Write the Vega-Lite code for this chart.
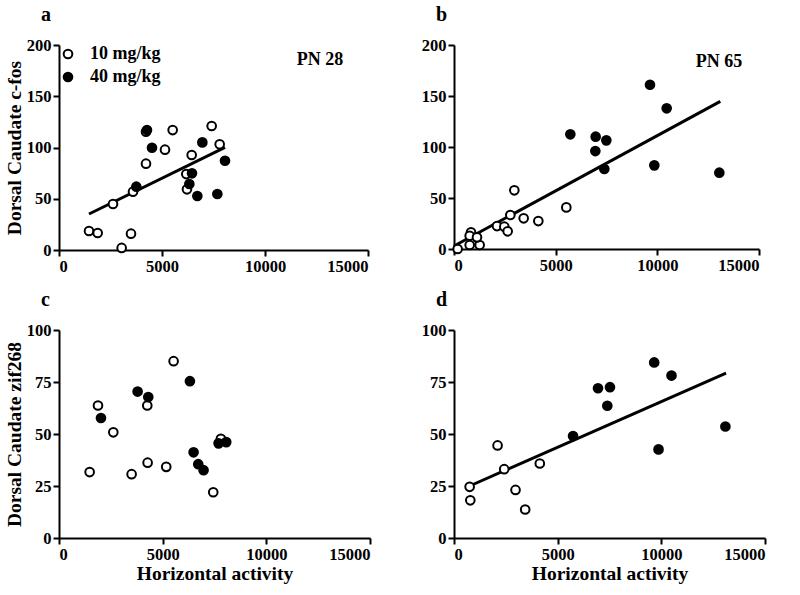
{
  "$schema": "https://vega.github.io/schema/vega-lite/v6.json",
  "background": "white",
  "padding": {"left": 4, "top": 5, "right": 5, "bottom": 5},
  "datasets": {
    "pts": [
      {"panel": "a", "dose": "10 mg/kg", "activity": 1456, "expr": 18.5},
      {"panel": "a", "dose": "10 mg/kg", "activity": 1877, "expr": 16.6},
      {"panel": "a", "dose": "10 mg/kg", "activity": 2621, "expr": 44.9},
      {"panel": "a", "dose": "10 mg/kg", "activity": 3042, "expr": 2},
      {"panel": "a", "dose": "10 mg/kg", "activity": 3495, "expr": 15.9},
      {"panel": "a", "dose": "10 mg/kg", "activity": 3592, "expr": 56.9},
      {"panel": "a", "dose": "10 mg/kg", "activity": 4223, "expr": 84.2},
      {"panel": "a", "dose": "10 mg/kg", "activity": 4223, "expr": 115.4},
      {"panel": "a", "dose": "10 mg/kg", "activity": 5145, "expr": 97.9},
      {"panel": "a", "dose": "10 mg/kg", "activity": 5518, "expr": 117},
      {"panel": "a", "dose": "10 mg/kg", "activity": 6180, "expr": 74.1},
      {"panel": "a", "dose": "10 mg/kg", "activity": 6212, "expr": 59.2},
      {"panel": "a", "dose": "10 mg/kg", "activity": 6441, "expr": 92.7},
      {"panel": "a", "dose": "10 mg/kg", "activity": 7411, "expr": 121},
      {"panel": "a", "dose": "10 mg/kg", "activity": 7799, "expr": 103.1},
      {"panel": "a", "dose": "40 mg/kg", "activity": 3753, "expr": 61.8},
      {"panel": "a", "dose": "40 mg/kg", "activity": 4271, "expr": 117},
      {"panel": "a", "dose": "40 mg/kg", "activity": 4514, "expr": 99.8},
      {"panel": "a", "dose": "40 mg/kg", "activity": 6456, "expr": 74.8},
      {"panel": "a", "dose": "40 mg/kg", "activity": 6327, "expr": 64.4},
      {"panel": "a", "dose": "40 mg/kg", "activity": 6715, "expr": 52.7},
      {"panel": "a", "dose": "40 mg/kg", "activity": 6958, "expr": 105},
      {"panel": "a", "dose": "40 mg/kg", "activity": 7686, "expr": 54.6},
      {"panel": "a", "dose": "40 mg/kg", "activity": 8058, "expr": 87.1},
      {"panel": "b", "dose": "10 mg/kg", "activity": 180, "expr": 0},
      {"panel": "b", "dose": "10 mg/kg", "activity": 771, "expr": 3.9},
      {"panel": "b", "dose": "10 mg/kg", "activity": 1262, "expr": 3.9},
      {"panel": "b", "dose": "10 mg/kg", "activity": 836, "expr": 16.3},
      {"panel": "b", "dose": "10 mg/kg", "activity": 771, "expr": 13},
      {"panel": "b", "dose": "10 mg/kg", "activity": 1131, "expr": 11.4},
      {"panel": "b", "dose": "10 mg/kg", "activity": 2115, "expr": 22.5},
      {"panel": "b", "dose": "10 mg/kg", "activity": 2475, "expr": 21.9},
      {"panel": "b", "dose": "10 mg/kg", "activity": 2639, "expr": 17.3},
      {"panel": "b", "dose": "10 mg/kg", "activity": 2770, "expr": 33.3},
      {"panel": "b", "dose": "10 mg/kg", "activity": 2967, "expr": 57.5},
      {"panel": "b", "dose": "10 mg/kg", "activity": 3426, "expr": 30.1},
      {"panel": "b", "dose": "10 mg/kg", "activity": 4147, "expr": 27.4},
      {"panel": "b", "dose": "10 mg/kg", "activity": 5524, "expr": 40.8},
      {"panel": "b", "dose": "40 mg/kg", "activity": 5721, "expr": 112.4},
      {"panel": "b", "dose": "40 mg/kg", "activity": 6967, "expr": 110.1},
      {"panel": "b", "dose": "40 mg/kg", "activity": 7492, "expr": 106.5},
      {"panel": "b", "dose": "40 mg/kg", "activity": 6951, "expr": 96},
      {"panel": "b", "dose": "40 mg/kg", "activity": 7393, "expr": 78.4},
      {"panel": "b", "dose": "40 mg/kg", "activity": 9639, "expr": 161},
      {"panel": "b", "dose": "40 mg/kg", "activity": 10459, "expr": 137.9},
      {"panel": "b", "dose": "40 mg/kg", "activity": 9852, "expr": 82},
      {"panel": "b", "dose": "40 mg/kg", "activity": 13049, "expr": 74.8},
      {"panel": "c", "dose": "10 mg/kg", "activity": 1478, "expr": 31.7},
      {"panel": "c", "dose": "10 mg/kg", "activity": 1880, "expr": 63.7},
      {"panel": "c", "dose": "10 mg/kg", "activity": 2619, "expr": 50.8},
      {"panel": "c", "dose": "10 mg/kg", "activity": 3502, "expr": 30.7},
      {"panel": "c", "dose": "10 mg/kg", "activity": 4258, "expr": 63.7},
      {"panel": "c", "dose": "10 mg/kg", "activity": 4274, "expr": 36.2},
      {"panel": "c", "dose": "10 mg/kg", "activity": 5172, "expr": 34.2},
      {"panel": "c", "dose": "10 mg/kg", "activity": 5527, "expr": 85},
      {"panel": "c", "dose": "10 mg/kg", "activity": 7439, "expr": 22},
      {"panel": "c", "dose": "10 mg/kg", "activity": 7808, "expr": 47.7},
      {"panel": "c", "dose": "40 mg/kg", "activity": 2024, "expr": 57.7},
      {"panel": "c", "dose": "40 mg/kg", "activity": 3792, "expr": 70.4},
      {"panel": "c", "dose": "40 mg/kg", "activity": 4306, "expr": 67.8},
      {"panel": "c", "dose": "40 mg/kg", "activity": 6314, "expr": 75.4},
      {"panel": "c", "dose": "40 mg/kg", "activity": 6491, "expr": 41.2},
      {"panel": "c", "dose": "40 mg/kg", "activity": 6716, "expr": 35.5},
      {"panel": "c", "dose": "40 mg/kg", "activity": 6973, "expr": 32.6},
      {"panel": "c", "dose": "40 mg/kg", "activity": 7696, "expr": 45.5},
      {"panel": "c", "dose": "40 mg/kg", "activity": 8066, "expr": 46.1},
      {"panel": "d", "dose": "10 mg/kg", "activity": 754, "expr": 24.6},
      {"panel": "d", "dose": "10 mg/kg", "activity": 786, "expr": 18.1},
      {"panel": "d", "dose": "10 mg/kg", "activity": 2101, "expr": 44.5},
      {"panel": "d", "dose": "10 mg/kg", "activity": 2422, "expr": 33.1},
      {"panel": "d", "dose": "10 mg/kg", "activity": 2967, "expr": 23.1},
      {"panel": "d", "dose": "10 mg/kg", "activity": 3433, "expr": 13.7},
      {"panel": "d", "dose": "10 mg/kg", "activity": 4138, "expr": 35.8},
      {"panel": "d", "dose": "40 mg/kg", "activity": 5742, "expr": 49},
      {"panel": "d", "dose": "40 mg/kg", "activity": 6945, "expr": 72},
      {"panel": "d", "dose": "40 mg/kg", "activity": 7523, "expr": 72.5},
      {"panel": "d", "dose": "40 mg/kg", "activity": 7394, "expr": 63.6},
      {"panel": "d", "dose": "40 mg/kg", "activity": 9656, "expr": 84.4},
      {"panel": "d", "dose": "40 mg/kg", "activity": 10490, "expr": 78.1},
      {"panel": "d", "dose": "40 mg/kg", "activity": 9865, "expr": 42.6},
      {"panel": "d", "dose": "40 mg/kg", "activity": 13089, "expr": 53.6}
    ],
    "lines": [
      {"panel": "a", "activity": 1456, "expr": 35.1},
      {"panel": "a", "activity": 8058, "expr": 100.2},
      {"panel": "b", "activity": 0, "expr": 2.9},
      {"panel": "b", "activity": 13098, "expr": 144.7},
      {"panel": "d", "activity": 754, "expr": 25},
      {"panel": "d", "activity": 13121, "expr": 79.3}
    ],
    "labels": [
      {"panel": "a", "activity": 12670, "expr": 185, "text": "PN 28"},
      {"panel": "b", "activity": 13030, "expr": 183, "text": "PN 65"}
    ]
  },
  "config": {
    "font": "Liberation Serif",
    "view": {"stroke": null},
    "axis": {
      "grid": false,
      "domainColor": "black",
      "domainWidth": 2,
      "tickColor": "black",
      "tickWidth": 2,
      "tickSize": 6,
      "labelColor": "black",
      "labelFont": "Liberation Serif",
      "labelFontWeight": "bold",
      "labelFontSize": 16.5,
      "labelPadding": 2,
      "titleColor": "black",
      "titleFont": "Liberation Serif",
      "titleFontWeight": "bold",
      "titleFontSize": 19.5,
      "titlePadding": 2
    },
    "title": {
      "font": "Liberation Serif",
      "fontSize": 20,
      "fontWeight": "bold",
      "color": "black",
      "anchor": "start",
      "frame": "group",
      "dx": -18,
      "offset": 12
    }
  },
  "columns": 2,
  "bounds": "flush",
  "spacing": {"row": 80, "column": 84},
  "resolve": {"scale": {"fill": "independent"}, "legend": {"fill": "independent"}},
  "concat": [
    {
      "title": "a",
      "width": 309,
      "height": 205,
      "layer": [
        {
          "data": {"name": "lines"},
          "transform": [{"filter": "datum.panel === 'a'"}],
          "mark": {"type": "line", "color": "black", "strokeWidth": 3},
          "encoding": {
            "x": {"field": "activity", "type": "quantitative"},
            "y": {"field": "expr", "type": "quantitative"}
          }
        },
        {
          "data": {"name": "pts"},
          "transform": [{"filter": "datum.panel === 'a'"}],
          "mark": {"type": "point", "shape": "circle", "filled": true, "stroke": "black", "strokeWidth": 2, "size": 75, "opacity": 1},
          "encoding": {
            "x": {"field": "activity", "type": "quantitative", "scale": {"domain": [0, 15000], "nice": false}, "axis": {"values": [0, 5000, 10000, 15000], "format": "d", "title": null}},
            "y": {"field": "expr", "type": "quantitative", "scale": {"domain": [0, 200], "nice": false}, "axis": {"values": [0, 50, 100, 150, 200], "title": "Dorsal Caudate c-fos"}},
            "fill": {"field": "dose", "type": "nominal", "scale": {"domain": ["10 mg/kg", "40 mg/kg"], "range": ["white", "black"]}, "legend": {"title": null, "orient": "top-left", "offset": 0, "padding": 0, "labelFont": "Liberation Serif", "labelFontWeight": "bold", "labelFontSize": 18, "labelColor": "black", "symbolStrokeColor": "black", "symbolStrokeWidth": 2, "symbolSize": 75, "rowPadding": 5, "labelOffset": 13}}
          }
        },
        {
          "data": {"name": "labels"},
          "transform": [{"filter": "datum.panel === 'a'"}],
          "mark": {"type": "text", "font": "Liberation Serif", "fontWeight": "bold", "fontSize": 18, "color": "black"},
          "encoding": {
            "x": {"field": "activity", "type": "quantitative"},
            "y": {"field": "expr", "type": "quantitative"},
            "text": {"field": "text"}
          }
        }
      ]
    },
    {
      "title": "b",
      "width": 305,
      "height": 204,
      "layer": [
        {
          "data": {"name": "lines"},
          "transform": [{"filter": "datum.panel === 'b'"}],
          "mark": {"type": "line", "color": "black", "strokeWidth": 3},
          "encoding": {
            "x": {"field": "activity", "type": "quantitative"},
            "y": {"field": "expr", "type": "quantitative"}
          }
        },
        {
          "data": {"name": "pts"},
          "transform": [{"filter": "datum.panel === 'b'"}],
          "mark": {"type": "point", "shape": "circle", "filled": true, "stroke": "black", "strokeWidth": 2, "size": 75, "opacity": 1},
          "encoding": {
            "x": {"field": "activity", "type": "quantitative", "scale": {"domain": [0, 15000], "nice": false}, "axis": {"values": [0, 5000, 10000, 15000], "format": "d", "title": null}},
            "y": {"field": "expr", "type": "quantitative", "scale": {"domain": [0, 200], "nice": false}, "axis": {"values": [0, 50, 100, 150, 200], "title": null}},
            "fill": {"field": "dose", "type": "nominal", "scale": {"domain": ["10 mg/kg", "40 mg/kg"], "range": ["white", "black"]}, "legend": null}
          }
        },
        {
          "data": {"name": "labels"},
          "transform": [{"filter": "datum.panel === 'b'"}],
          "mark": {"type": "text", "font": "Liberation Serif", "fontWeight": "bold", "fontSize": 18, "color": "black"},
          "encoding": {
            "x": {"field": "activity", "type": "quantitative"},
            "y": {"field": "expr", "type": "quantitative"},
            "text": {"field": "text"}
          }
        }
      ]
    },
    {
      "title": "c",
      "width": 311,
      "height": 208,
      "layer": [
        {
          "data": {"name": "pts"},
          "transform": [{"filter": "datum.panel === 'c'"}],
          "mark": {"type": "point", "shape": "circle", "filled": true, "stroke": "black", "strokeWidth": 2, "size": 75, "opacity": 1},
          "encoding": {
            "x": {"field": "activity", "type": "quantitative", "scale": {"domain": [0, 15000], "nice": false}, "axis": {"values": [0, 5000, 10000, 15000], "format": "d", "title": "Horizontal activity"}},
            "y": {"field": "expr", "type": "quantitative", "scale": {"domain": [0, 100], "nice": false}, "axis": {"values": [0, 25, 50, 75, 100], "title": "Dorsal Caudate zif268"}},
            "fill": {"field": "dose", "type": "nominal", "scale": {"domain": ["10 mg/kg", "40 mg/kg"], "range": ["white", "black"]}, "legend": null}
          }
        }
      ]
    },
    {
      "title": "d",
      "width": 311,
      "height": 208,
      "layer": [
        {
          "data": {"name": "lines"},
          "transform": [{"filter": "datum.panel === 'd'"}],
          "mark": {"type": "line", "color": "black", "strokeWidth": 3},
          "encoding": {
            "x": {"field": "activity", "type": "quantitative"},
            "y": {"field": "expr", "type": "quantitative"}
          }
        },
        {
          "data": {"name": "pts"},
          "transform": [{"filter": "datum.panel === 'd'"}],
          "mark": {"type": "point", "shape": "circle", "filled": true, "stroke": "black", "strokeWidth": 2, "size": 75, "opacity": 1},
          "encoding": {
            "x": {"field": "activity", "type": "quantitative", "scale": {"domain": [0, 15000], "nice": false}, "axis": {"values": [0, 5000, 10000, 15000], "format": "d", "title": "Horizontal activity"}},
            "y": {"field": "expr", "type": "quantitative", "scale": {"domain": [0, 100], "nice": false}, "axis": {"values": [0, 25, 50, 75, 100], "title": null}},
            "fill": {"field": "dose", "type": "nominal", "scale": {"domain": ["10 mg/kg", "40 mg/kg"], "range": ["white", "black"]}, "legend": null}
          }
        }
      ]
    }
  ]
}
